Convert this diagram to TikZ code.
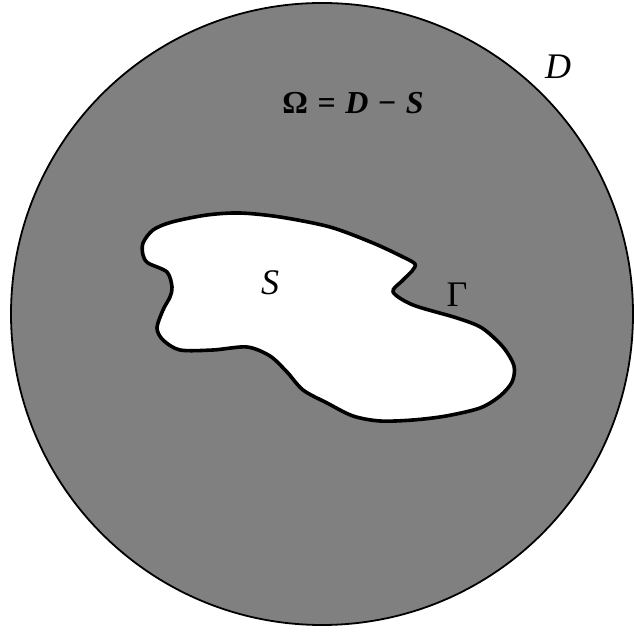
\documentclass[tikz,border=0pt]{standalone}
\usepackage{fontspec}
\setmainfont{Liberation Serif}
\begin{document}
\begin{tikzpicture}[x=1pt,y=1pt]
	\tikzset{lbl/.style={font=\fontsize{36}{38}\selectfont, inner sep=0pt}}
	\useasboundingbox (0,0) rectangle (633,634);
	% disk D
	\filldraw[fill=black!50, line width=1.8pt] (322,320) circle (311);
	% obstacle S with boundary Gamma
	\filldraw[fill=white, line width=3.6pt, line join=round] plot[smooth cycle, tension=0.5] coordinates {
		(143,391) (153,404) (172,412) (207,419) (240,421) (280,417) (330,407)
		(373,391) (403,377) (415,370) (412,363) (402,353) (393,342) (413,329)
		(457,316) (482,306) (503,287) (514,268) (512,252) (500,238) (480,226)
		(446,218) (413,214) (380,213) (353,218) (327,231) (303,244) (287,262)
		(270,278) (247,287) (213,284) (180,284) (163,294) (157,306) (163,324)
		(170,337) (172,347) (167,362) (148,371) (143,379)};
	\node[lbl] (D) at (558,567) {\textit{D}};
	\node[lbl, font=\fontsize{32}{34}\selectfont\bfseries] (omega) at (353,531)
		{Ω\hspace{0.3em}=\hspace{0.3em}\textit{D}\hspace{0.3em}−\hspace{0.3em}\textit{S}};
	\node[lbl] (S) at (270,351) {\textit{S}};
	\node[lbl] (gamma) at (457,339) {Γ};
\end{tikzpicture}
\end{document}
